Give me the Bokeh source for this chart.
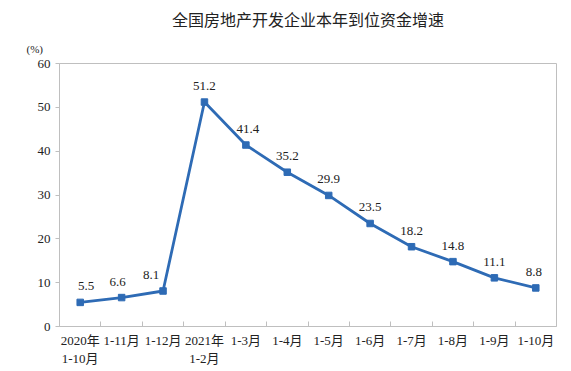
from bokeh.plotting import figure
from bokeh.models import FixedTicker, Title, Range1d, ColumnDataSource
from bokeh.embed import file_html
from bokeh.resources import INLINE
from bokeh.core.properties import value

categories = ["2020年\n1-10月", "1-11月", "1-12月", "2021年\n1-2月", "1-3月", "1-4月",
              "1-5月", "1-6月", "1-7月", "1-8月", "1-9月", "1-10月"]
growth = [5.5, 6.6, 8.1, 51.2, 41.4, 35.2, 29.9, 23.5, 18.2, 14.8, 11.1, 8.8]
y_ticks = [0, 10, 20, 30, 40, 50, 60]
# horizontal nudges of the value labels (pixels), as placed in the original
label_dx = [6, -4, -12, 0, 2, 0, 0, 0, 0, 0, 0, -2]

xs = [i + 0.5 for i in range(len(categories))]
src = ColumnDataSource(dict(x=xs, y=growth, lab=[f"{v:.1f}" for v in growth], dx=label_dx))

SERIF = "'Liberation Serif', 'Noto Sans CJK SC'"
LINE = "#2E6BB5"

p = figure(frame_width=497, frame_height=263, output_backend="svg", toolbar_location=None,
           x_range=Range1d(0, len(categories)), y_range=Range1d(0, 60),
           min_border_left=59, min_border_right=15, min_border_top=63, min_border_bottom=45)
p.outline_line_color = "#BFBFBF"
p.outline_line_width = 1
p.grid.visible = False
p.background_fill_color = "white"
p.border_fill_color = "white"

# y axis
p.yaxis.ticker = FixedTicker(ticks=y_ticks)
p.yaxis.axis_line_color = "#BFBFBF"
p.yaxis.major_tick_line_color = "#BFBFBF"
p.yaxis.major_tick_out = 4
p.yaxis.major_tick_in = 0
p.yaxis.minor_tick_line_color = None
p.yaxis.major_label_text_font = SERIF
p.yaxis.major_label_text_font_size = "13px"
p.yaxis.major_label_text_color = "#222222"
p.yaxis.major_label_standoff = 5

# x axis
p.xaxis.ticker = FixedTicker(ticks=xs, minor_ticks=list(range(1, len(categories))))
p.xaxis.major_label_overrides = {x: c for x, c in zip(xs, categories)}
p.xaxis.axis_line_color = "#BFBFBF"
p.xaxis.major_tick_line_color = None
p.xaxis.minor_tick_line_color = "#BFBFBF"
p.xaxis.minor_tick_in = 5
p.xaxis.minor_tick_out = 0
p.xaxis.major_label_text_font = SERIF
p.xaxis.major_label_text_font_size = "13px"
p.xaxis.major_label_text_line_height = 1.25
p.xaxis.major_label_text_color = "#222222"
p.xaxis.major_label_standoff = 0

p.line("x", "y", source=src, line_color=LINE, line_width=2.8)
p.scatter("x", "y", source=src, marker="square", size=6.5, fill_color=LINE, line_color=LINE)
p.text("x", "y", text="lab", source=src, x_offset="dx", text_font=value("Liberation Serif"),
       text_font_size="13px", text_color="#222222", text_align="center",
       text_baseline="middle", y_offset=-16)

p.add_layout(Title(text="(%)", align="left", offset=-33, standoff=17,
                   text_font=SERIF, text_font_size="11px", text_color="#222222",
                   text_font_style="normal"), "above")
p.add_layout(Title(text="全国房地产开发企业本年到位资金增速", align="center", standoff=4,
                   text_font="Noto Sans CJK SC", text_font_size="16px",
                   text_color="#222222", text_font_style="normal"), "above")

open("out.html", "w").write(file_html(p, INLINE))
